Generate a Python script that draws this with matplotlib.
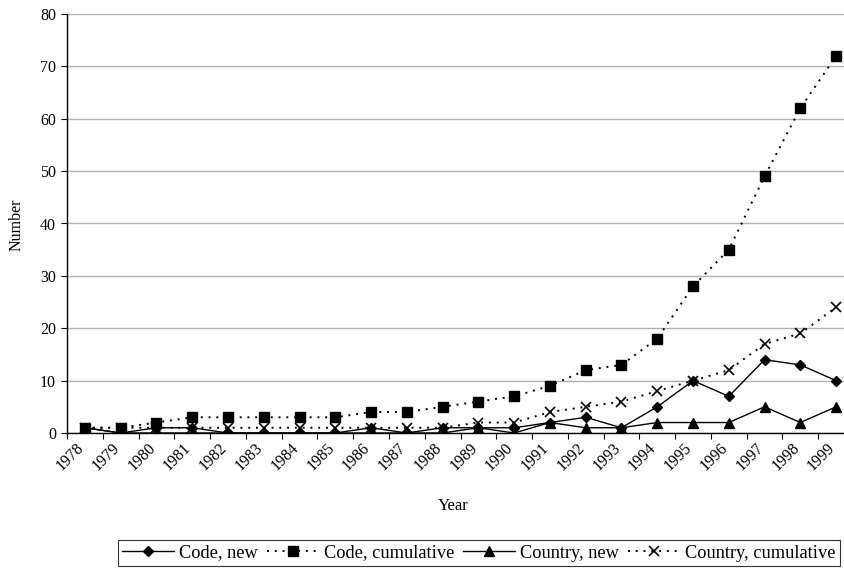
import matplotlib
matplotlib.use("Agg")
import matplotlib.pyplot as plt
import matplotlib.transforms as mtransforms
import numpy as np

plt.rcParams['font.family'] = ['Liberation Serif', 'DejaVu Serif']

years = ["1978", "1979", "1980", "1981", "1982", "1983", "1984", "1985", "1986", "1987", "1988",
         "1989", "1990", "1991", "1992", "1993", "1994", "1995", "1996", "1997", "1998", "1999"]
code_new = [1, 0, 1, 1, 0, 0, 0, 0, 1, 0, 1, 1, 1, 2, 3, 1, 5, 10, 7, 14, 13, 10]
code_cum = [1, 1, 2, 3, 3, 3, 3, 3, 4, 4, 5, 6, 7, 9, 12, 13, 18, 28, 35, 49, 62, 72]
country_new = [1, 0, 0, 0, 0, 0, 0, 0, 0, 0, 0, 1, 0, 2, 1, 1, 2, 2, 2, 5, 2, 5]
country_cum = [1, 1, 1, 1, 1, 1, 1, 1, 1, 1, 1, 2, 2, 4, 5, 6, 8, 10, 12, 17, 19, 24]

W, H = 845, 571
fig = plt.figure(figsize=(W / 100, H / 100), dpi=100)
ax = fig.add_axes([67 / W, (H - 433) / H, (854 - 67) / W, (433 - 14) / H])

x = np.arange(len(years))
ax.plot(x, code_new, color='black', lw=1.0, ls='-', marker='D', ms=5.5, label='Code, new', zorder=3)
ax.plot(x, code_cum, color='black', lw=1.4, ls=(0, (1, 3)), marker='s', ms=6.5, label='Code, cumulative', zorder=3)
ax.plot(x, country_new, color='black', lw=1.0, ls='-', marker='^', ms=7, label='Country, new', zorder=3)
ax.plot(x, country_cum, color='black', lw=1.4, ls=(0, (1, 3)), marker='x', ms=7, mew=1.2, label='Country, cumulative', zorder=3)

ax.set_xlim(-0.5, len(years) - 0.5)
ax.set_ylim(0, 80)
ax.set_yticks(np.arange(0, 81, 10))
ax.yaxis.grid(True, color='#b0b0b0', lw=1.0)
ax.set_axisbelow(True)
ax.set_xticks(x)
ax.set_xticklabels(years, rotation=45, ha='right', rotation_mode='anchor')
ax.tick_params(axis='x', which='major', length=0, pad=5, labelsize=11.5)
ax.set_xticks(np.arange(-0.5, len(years), 1), minor=True)
ax.tick_params(axis='x', which='minor', length=4, width=0.8, direction='out')
ax.tick_params(axis='y', length=4, width=0.8, labelsize=11.5, pad=4)

offset = mtransforms.ScaledTranslation(-9 / 100, 0, fig.dpi_scale_trans)
for lbl in ax.get_xticklabels():
    lbl.set_transform(lbl.get_transform() + offset)

for s in ['top', 'right']:
    ax.spines[s].set_visible(False)
ax.spines['left'].set_linewidth(1.0)
ax.spines['bottom'].set_linewidth(1.0)

fig.text(17 / W, 1 - 225 / H, 'Number', rotation=90, ha='center', va='center', fontsize=11.5)
fig.text(453 / W, 1 - 506 / H, 'Year', ha='center', va='center', fontsize=12)

leg = fig.legend(loc='center', bbox_to_anchor=(479 / W, 1 - 553 / H), ncol=4, frameon=True,
                 fancybox=False, edgecolor='black', fontsize=13.2, handlelength=2.8,
                 columnspacing=0.5, handletextpad=0.3, borderpad=0.25)
leg.get_frame().set_linewidth(0.8)

fig.savefig('out.png', dpi=100)
